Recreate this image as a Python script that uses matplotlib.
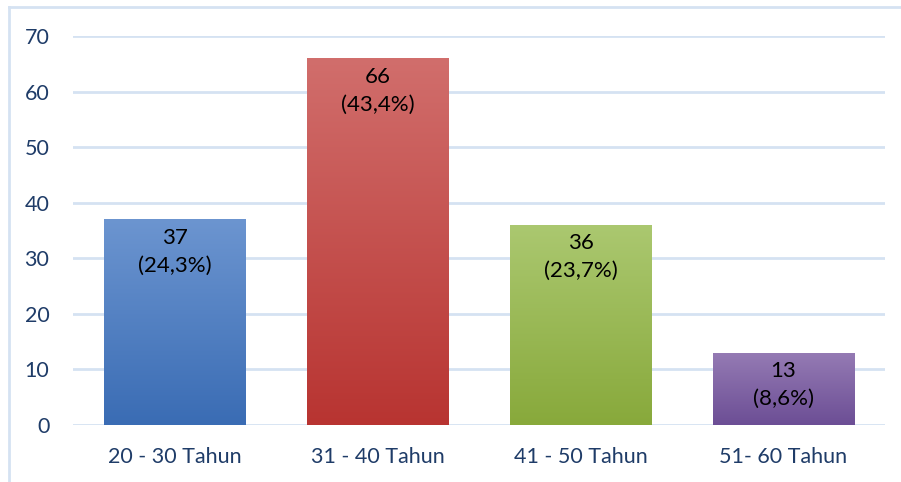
import matplotlib.pyplot as plt
import numpy as np
from matplotlib.colors import LinearSegmentedColormap

kategori = ['20 - 30 Tahun', '31 - 40 Tahun', '41 - 50 Tahun', '51- 60 Tahun']
jumlah = [37, 66, 36, 13]
persen = ['24,3%', '43,4%', '23,7%', '8,6%']
warna_atas = ['#6c95d0', '#d16e6c', '#abc870', '#957bb4']
warna_bawah = ['#3a6cb4', '#b83431', '#88a93b', '#6c4e95']

plt.rcParams['font.family'] = ['Lato', 'DejaVu Sans']

fig = plt.figure(figsize=(9.01, 4.82), dpi=100)
ax = fig.add_axes([73 / 901, 1 - 425 / 482, 812 / 901, 389 / 482])

x = np.arange(len(kategori))
bars = ax.bar(x, jumlah, width=0.695, color='none', zorder=2)

# gradien vertikal di dalam tiap batang
grad = np.linspace(0, 1, 256).reshape(-1, 1)
for b, c1, c2 in zip(bars, warna_atas, warna_bawah):
    cmap = LinearSegmentedColormap.from_list('g', [c2, c1])
    x0, y0 = b.get_x(), b.get_y()
    w, h = b.get_width(), b.get_height()
    im = ax.imshow(grad, cmap=cmap, aspect='auto', origin='lower',
                   extent=[x0, x0 + w, y0, y0 + h], zorder=2)
    im.set_clip_path(b)

for xi, v, p in zip(x, jumlah, persen):
    ax.annotate(f'{v}\n({p})', xy=(xi, v), xytext=(0, -6), textcoords='offset points',
                ha='center', va='top', fontsize=16, color='black', linespacing=1.5, zorder=3)

ax.set_xlim(-0.5, 3.5)
ax.set_ylim(0, 70)
ax.set_yticks(range(0, 71, 10))
ax.set_xticks(x)
ax.set_xticklabels(kategori)
ax.tick_params(axis='both', length=0, labelsize=15.5, colors='#1f3c68')
ax.tick_params(axis='y', pad=17)
ax.tick_params(axis='x', pad=16)
ax.grid(axis='y', color='#d5e2f2', linewidth=2, zorder=0)
ax.set_axisbelow(True)
for s in ax.spines.values():
    s.set_visible(False)

# bingkai luar
fig.add_artist(plt.Line2D([9 / 901, 9 / 901], [0, 1 - 7 / 482], color='#d5e2f2', linewidth=2,
                          transform=fig.transFigure))
fig.add_artist(plt.Line2D([9 / 901, 1], [1 - 7 / 482, 1 - 7 / 482], color='#d5e2f2', linewidth=2,
                          transform=fig.transFigure))

fig.savefig('out.png', dpi=100)
